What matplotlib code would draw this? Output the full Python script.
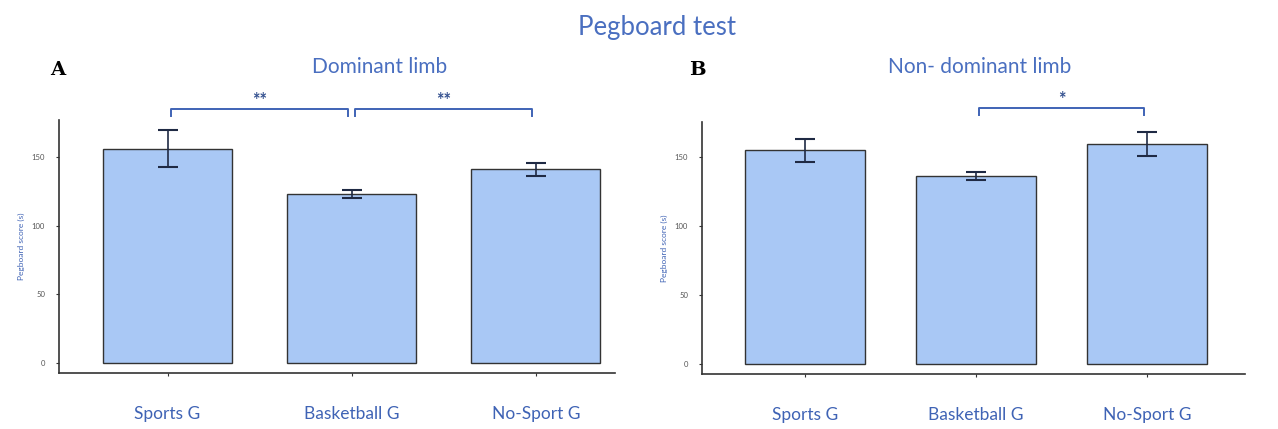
import matplotlib
matplotlib.use('Agg')
import matplotlib.pyplot as plt

plt.rcParams['font.family'] = ['Lato', 'DejaVu Sans']

groups = ['Sports G', 'Basketball G', 'No-Sport G']
dominant_mean = [156, 123, 141]
dominant_err = [13.5, 3, 5]
nondominant_mean = [154.5, 136, 159]
nondominant_err = [8.5, 3, 8.5]
yticks = [0, 50, 100, 150]

# significance brackets: (left group, right group, label)
dominant_sig = [(0, 1, '**'), (1, 2, '**')]
nondominant_sig = [(1, 2, '*')]

BAR = '#a9c8f5'
BLUE = '#3f63b5'
W, H = 1278, 429

fig = plt.figure(figsize=(W / 100, H / 100), dpi=100)


def px_axes(x0, x1, ytop, ybot):
    return fig.add_axes([x0 / W, 1 - ybot / H, (x1 - x0) / W, (ybot - ytop) / H])


def draw_panel(ax, means, errs, sig, xlim, ylim):
    x = range(len(groups))
    ax.bar(x, means, width=0.7, color=BAR, edgecolor='#333333', linewidth=1.0)
    ax.errorbar(x, means, yerr=errs, fmt='none', ecolor='#1f2a44',
                elinewidth=1.2, capsize=7, capthick=1.5)
    ax.set_xlim(*xlim)
    ax.set_ylim(*ylim)
    ax.set_yticks(yticks)
    ax.set_yticklabels([str(t) for t in yticks], fontsize=5.5, color='#555555')
    ax.set_xticks(list(x))
    ax.set_xticklabels(groups, fontsize=12.5, color=BLUE)
    ax.tick_params(axis='x', length=2, pad=22, color='#333333')
    ax.tick_params(axis='y', length=2, pad=8, color='#333333')
    for s in ['top', 'right']:
        ax.spines[s].set_visible(False)
    for s in ['left', 'bottom']:
        ax.spines[s].set_color('#333333')
        ax.spines[s].set_linewidth(1.2)
    ax.set_ylabel('Pegboard score (s)', fontsize=6, color=BLUE, labelpad=5)
    for a, b, lab in sig:
        xa, xb = a + 0.02, b - 0.02
        yb, yt = 180, 185
        ax.plot([xa, xa, xb, xb], [yb, yt, yt, yb], color=BLUE, lw=1.4,
                clip_on=False, solid_joinstyle='round')
        ax.text((xa + xb) / 2, 191, lab, ha='center', va='center',
                fontsize=13, color='#33508f', fontweight='bold', clip_on=False)


axA = px_axes(59, 615, 120, 373)
draw_panel(axA, dominant_mean, dominant_err, dominant_sig, (-0.59, 2.43), (-7.3, 177))

axB = px_axes(702, 1245, 122, 374)
draw_panel(axB, nondominant_mean, nondominant_err, nondominant_sig, (-0.60, 2.57), (-7.2, 175))

fig.text(657 / W, 1 - 27 / H, 'Pegboard test', ha='center', va='center',
         fontsize=18.5, color='#4a6fc0')
fig.text(380 / W, 1 - 67 / H, 'Dominant limb', ha='center', va='center',
         fontsize=15, color='#4a6fc0')
fig.text(980 / W, 1 - 67 / H, 'Non- dominant limb', ha='center', va='center',
         fontsize=15, color='#4a6fc0')
fig.text(58 / W, 1 - 70 / H, 'A', ha='center', va='center', fontsize=14,
         fontweight='bold', family='DejaVu Serif')
fig.text(697 / W, 1 - 70 / H, 'B', ha='center', va='center', fontsize=14,
         fontweight='bold', family='DejaVu Serif')

fig.savefig('out.png', dpi=100)
